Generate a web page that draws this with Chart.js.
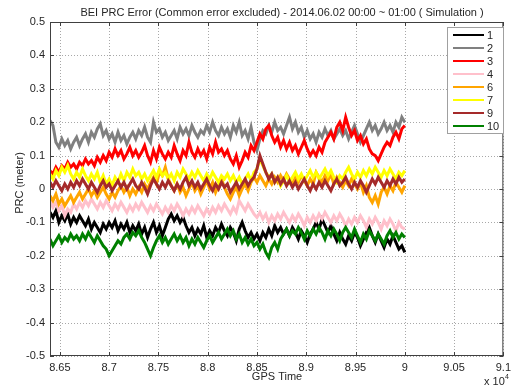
<!DOCTYPE html>
<html>
<head>
<meta charset="utf-8">
<script src="https://cdn.jsdelivr.net/npm/chart.js@4/dist/chart.umd.min.js"></script>
<style>
  html, body { margin: 0; padding: 0; background: #fff; }
  #wrap { width: 516px; height: 389px; }
</style>
</head>
<body>
<div id="wrap"><canvas id="prc" width="516" height="389"></canvas></div>
<script>
// sample grid: 30 s steps from 86400 to 90000
const tStart = 86400
const tStep = 30

const xTicks = [86500, 87000, 87500, 88000, 88500, 89000, 89500, 90000, 90500, 91000]
const yTicks = [-0.5, -0.4, -0.3, -0.2, -0.1, 0, 0.1, 0.2, 0.3, 0.4, 0.5]

const names = ['1', '2', '3', '4', '6', '7', '9', '10']
const colors = ['#000000', '#808080', '#ff0000', '#ffc0cb', '#ffa500', '#ffff00', '#a52a2a', '#008000']

const prn1 = [
  -0.07, -0.085, -0.065, -0.1, -0.08, -0.095, -0.075, -0.105, -0.085, -0.1,
  -0.08, -0.095, -0.11, -0.09, -0.12, -0.1, -0.115, -0.13, -0.105, -0.12,
  -0.1, -0.115, -0.095, -0.125, -0.105, -0.12, -0.1, -0.13, -0.11, -0.125,
  -0.105, -0.135, -0.115, -0.145, -0.12, -0.1, -0.13, -0.11, -0.14, -0.115,
  -0.09, -0.075, -0.095, -0.08, -0.1, -0.085, -0.11, -0.13, -0.115, -0.14,
  -0.12, -0.135, -0.11, -0.145, -0.125, -0.14, -0.115, -0.13, -0.105, -0.125,
  -0.14, -0.115, -0.13, -0.155, -0.12, -0.1, -0.125, -0.145, -0.13, -0.15,
  -0.135, -0.155, -0.13, -0.145, -0.12, -0.14, -0.11, -0.13, -0.115, -0.135,
  -0.12, -0.14, -0.115, -0.13, -0.15, -0.125, -0.14, -0.16, -0.135, -0.12,
  -0.1, -0.12, -0.09, -0.11, -0.13, -0.11, -0.135, -0.155, -0.13, -0.15,
  -0.165, -0.14, -0.155, -0.13, -0.145, -0.17, -0.15, -0.13, -0.115, -0.14,
  -0.16, -0.135, -0.155, -0.175, -0.15, -0.165, -0.14, -0.16, -0.18, -0.17, -0.19
]
const prn2 = [
  0.205, 0.19, 0.14, 0.125, 0.15, 0.13, 0.145, 0.12, 0.14, 0.155,
  0.13, 0.15, 0.165, 0.14, 0.17, 0.155, 0.18, 0.195, 0.16, 0.175,
  0.15, 0.165, 0.14, 0.17, 0.145, 0.16, 0.135, 0.155, 0.17, 0.15,
  0.175, 0.16, 0.185, 0.155, 0.14, 0.2, 0.17, 0.18, 0.155, 0.17,
  0.145, 0.16, 0.175, 0.15, 0.185, 0.165, 0.18, 0.16, 0.19, 0.17,
  0.155, 0.175, 0.165, 0.19, 0.17, 0.2, 0.175, 0.16, 0.185, 0.165,
  0.18, 0.155, 0.19, 0.17, 0.2, 0.16, 0.175, 0.15, 0.185, 0.14,
  0.115, 0.15, 0.175, 0.165, 0.19, 0.17, 0.2, 0.175, 0.185, 0.165,
  0.19, 0.215, 0.18, 0.2, 0.17, 0.185, 0.155, 0.175, 0.15, 0.165,
  0.14, 0.17, 0.155, 0.18, 0.16, 0.175, 0.15, 0.165, 0.18, 0.16,
  0.175, 0.15, 0.17, 0.19, 0.165, 0.14, 0.16, 0.18, 0.2, 0.175,
  0.19, 0.165, 0.18, 0.2, 0.175, 0.19, 0.17, 0.2, 0.185, 0.215, 0.2
]
const prn3 = [
  0.055, 0.045, 0.065, 0.05, 0.07, 0.06, 0.08, 0.065, 0.075, 0.06,
  0.08, 0.07, 0.09, 0.075, 0.085, 0.07, 0.095, 0.08, 0.1, 0.085,
  0.11, 0.095, 0.12, 0.1, 0.115, 0.09, 0.105, 0.125, 0.1, 0.115,
  0.095, 0.11, 0.13, 0.1, 0.08, 0.115, 0.09, 0.125, 0.105, 0.09,
  0.11, 0.095, 0.13, 0.105, 0.085, 0.115, 0.1, 0.14, 0.11, 0.095,
  0.12, 0.1, 0.115, 0.09, 0.125, 0.105, 0.14, 0.11, 0.12, 0.1,
  0.115, 0.09, 0.075, 0.1, 0.065, 0.085, 0.11, 0.095, 0.13, 0.115,
  0.14, 0.165, 0.15, 0.18, 0.19, 0.16, 0.14, 0.155, 0.125, 0.145,
  0.12, 0.14, 0.115, 0.13, 0.105, 0.125, 0.145, 0.12, 0.1, 0.115,
  0.1, 0.125, 0.11, 0.14, 0.155, 0.17, 0.15, 0.185, 0.2, 0.175,
  0.215, 0.185, 0.16, 0.175, 0.145, 0.16, 0.135, 0.15, 0.12, 0.105,
  0.1, 0.085, 0.105, 0.125, 0.14, 0.13, 0.155, 0.17, 0.15, 0.18, 0.19
]
const prn4 = [
  -0.035, -0.055, -0.04, -0.065, -0.05, -0.08, -0.06, -0.07, -0.045, -0.06,
  -0.04, -0.055, -0.035, -0.05, -0.03, -0.045, -0.06, -0.04, -0.055, -0.035,
  -0.05, -0.065, -0.045, -0.06, -0.04, -0.055, -0.07, -0.05, -0.065, -0.045,
  -0.06, -0.04, -0.055, -0.07, -0.05, -0.065, -0.045, -0.06, -0.075, -0.055,
  -0.07, -0.05, -0.065, -0.045, -0.06, -0.08, -0.06, -0.075, -0.055, -0.07,
  -0.05, -0.065, -0.08, -0.06, -0.075, -0.055, -0.07, -0.05, -0.065, -0.045,
  -0.06, -0.075, -0.055, -0.07, -0.035, -0.05, -0.065, -0.045, -0.06, -0.075,
  -0.085, -0.07, -0.09, -0.075, -0.1, -0.08, -0.095, -0.075, -0.09, -0.07,
  -0.085, -0.1, -0.08, -0.095, -0.075, -0.09, -0.11, -0.085, -0.1, -0.08,
  -0.095, -0.075, -0.09, -0.07, -0.085, -0.1, -0.08, -0.095, -0.075, -0.09,
  -0.11, -0.09, -0.105, -0.085, -0.1, -0.08, -0.095, -0.115, -0.09, -0.105,
  -0.085, -0.1, -0.12, -0.095, -0.11, -0.09, -0.105, -0.125, -0.1, -0.115, -0.12
]
const prn6 = [
  -0.02, -0.035, -0.015, -0.045, -0.03, -0.05, -0.035, -0.02, -0.04, -0.025,
  -0.01, -0.03, -0.015, 0.0, -0.02, -0.005, -0.025, -0.01, 0.005, -0.015,
  -0.03, -0.01, -0.025, -0.005, 0.01, -0.01, 0.005, -0.02, 0.0, -0.015,
  0.005, -0.01, 0.015, 0.0, 0.02, 0.035, 0.015, 0.05, 0.04, 0.065,
  0.03, 0.01, -0.005, 0.015, -0.01, 0.005, -0.02, 0.0, 0.02, -0.005,
  0.01, -0.015, 0.005, 0.025, 0.0, 0.02, -0.01, 0.01, 0.03, 0.005,
  -0.015, -0.03, -0.01, 0.005, -0.02, 0.0, 0.015, -0.005, 0.02, 0.035,
  0.02, 0.04, 0.025, 0.01, 0.03, 0.015, 0.035, 0.02, 0.04, 0.025,
  0.045, 0.03, 0.015, 0.035, 0.02, 0.04, 0.025, 0.01, 0.03, 0.015,
  0.05, 0.035, 0.02, 0.04, 0.025, 0.045, 0.015, 0.035, 0.02, 0.005,
  0.025, 0.01, 0.03, 0.015, 0.0, 0.02, -0.01, 0.01, -0.025, -0.04,
  -0.02, -0.045, -0.01, 0.005, -0.015, 0.01, -0.005, 0.02, 0.005, -0.01, 0.01
]
const prn7 = [
  0.045, 0.03, 0.055, 0.04, 0.065, 0.05, 0.07, 0.045, 0.03, 0.05,
  0.035, 0.06, 0.04, 0.025, 0.045, 0.03, 0.05, 0.02, 0.04, 0.015,
  0.03, 0.01, 0.035, 0.02, 0.045, 0.025, 0.05, 0.035, 0.06, 0.04,
  0.05, 0.03, 0.045, 0.025, 0.04, 0.055, 0.035, 0.06, 0.04, 0.05,
  0.03, 0.045, 0.025, 0.05, 0.035, 0.06, 0.045, 0.03, 0.05, 0.035,
  0.055, 0.04, 0.025, 0.045, 0.03, 0.05, 0.035, 0.02, 0.04, 0.03,
  0.045, 0.025, 0.04, 0.02, 0.035, 0.015, 0.03, 0.045, 0.025, 0.05,
  0.06, 0.09, 0.07, 0.05, 0.035, 0.045, 0.02, 0.035, 0.01, 0.025,
  0.04, 0.02, 0.035, 0.05, 0.03, 0.045, 0.025, 0.04, 0.055, 0.035,
  0.05, 0.03, 0.045, 0.06, 0.04, 0.055, 0.035, 0.02, 0.04, 0.03,
  0.05, 0.065, 0.045, 0.03, 0.05, 0.035, 0.055, 0.04, 0.06, 0.045,
  0.065, 0.05, 0.035, 0.055, 0.04, 0.06, 0.045, 0.03, 0.05, 0.04, 0.055
]
const prn9 = [
  0.02, 0.005, 0.025, 0.01, -0.005, 0.015, 0.0, 0.02, 0.005, 0.025,
  0.01, 0.03, 0.015, 0.0, 0.02, 0.005, -0.01, 0.01, 0.025, 0.005,
  0.015, -0.005, 0.01, 0.025, 0.005, 0.02, 0.0, 0.015, 0.03, 0.01,
  0.0, 0.02, 0.005, -0.015, 0.01, 0.03, 0.015, 0.0, 0.02, 0.005,
  0.025, 0.01, -0.005, 0.015, 0.0, 0.02, 0.035, 0.01, 0.025, 0.005,
  0.02, 0.0, 0.015, 0.03, 0.01, -0.005, 0.015, 0.0, 0.02, 0.005,
  0.015, -0.01, 0.005, 0.02, 0.0, 0.015, 0.03, 0.01, 0.025, 0.035,
  0.06, 0.1, 0.075, 0.05, 0.03, 0.045, 0.02, 0.035, 0.015, 0.03,
  0.01, 0.025, 0.005, 0.02, 0.0, 0.015, 0.03, 0.01, -0.005, 0.015,
  0.0, 0.02, 0.005, 0.025, 0.01, -0.005, 0.015, 0.03, 0.01, 0.02,
  0.035, 0.015, 0.0, 0.02, 0.005, 0.025, 0.01, -0.01, 0.01, 0.03,
  0.015, 0.035, 0.02, 0.005, 0.025, 0.01, 0.03, 0.015, 0.035, 0.02, 0.03
]
const prn10 = [
  -0.15, -0.17, -0.155, -0.14, -0.16, -0.145, -0.155, -0.135, -0.15, -0.14,
  -0.155, -0.135, -0.15, -0.13, -0.145, -0.16, -0.14, -0.155, -0.17, -0.18,
  -0.2, -0.185, -0.17, -0.155, -0.165, -0.145, -0.135, -0.15, -0.13, -0.14,
  -0.125, -0.145, -0.16, -0.18, -0.2, -0.175, -0.155, -0.14, -0.16, -0.145,
  -0.165, -0.15, -0.135, -0.155, -0.14, -0.16, -0.145, -0.17, -0.15, -0.165,
  -0.145, -0.16, -0.175, -0.155, -0.14, -0.16, -0.145, -0.13, -0.15, -0.135,
  -0.12, -0.14, -0.125, -0.15, -0.135, -0.16, -0.145, -0.165, -0.15, -0.17,
  -0.16, -0.18, -0.165, -0.19, -0.205, -0.175, -0.16, -0.18, -0.15, -0.135,
  -0.12, -0.14, -0.125, -0.135, -0.115, -0.13, -0.15, -0.125, -0.14, -0.12,
  -0.135, -0.115, -0.13, -0.15, -0.125, -0.14, -0.12, -0.135, -0.155, -0.13,
  -0.115, -0.13, -0.145, -0.12, -0.14, -0.16, -0.135, -0.15, -0.125, -0.14,
  -0.155, -0.135, -0.15, -0.165, -0.14, -0.125, -0.145, -0.13, -0.15, -0.135, -0.145
]

const series = [prn1, prn2, prn3, prn4, prn6, prn7, prn9, prn10]

const FONT = '"Liberation Sans", Arial, sans-serif'
const INK = '#262626'

// dotted grid under the lines
const dottedGrid = {
    id: 'dottedGrid',
    beforeDatasetsDraw(chart) {
        const ctx = chart.ctx
        const a = chart.chartArea
        const xs = chart.scales.x
        const ys = chart.scales.y
        ctx.save()
        ctx.strokeStyle = '#a8a8a8'
        ctx.lineWidth = 1
        ctx.setLineDash([1, 2])
        ctx.beginPath()
        xTicks.forEach(v => {
            const px = Math.round(xs.getPixelForValue(v)) + 0.5
            ctx.moveTo(px, a.top); ctx.lineTo(px, a.bottom)
        })
        yTicks.forEach(v => {
            const py = Math.round(ys.getPixelForValue(v)) + 0.5
            ctx.moveTo(a.left, py); ctx.lineTo(a.right, py)
        })
        ctx.stroke()
        ctx.restore()
    }
}

// box, inward ticks, labels and legend, drawn like a matlab axes
const matlabFrame = {
    id: 'matlabFrame',
    afterDraw(chart) {
        const ctx = chart.ctx
        const a = chart.chartArea
        const xs = chart.scales.x
        const ys = chart.scales.y

        ctx.save()
        ctx.strokeStyle = '#404040'
        ctx.lineWidth = 1
        ctx.strokeRect(a.left + 0.5, a.top + 0.5, a.right - a.left - 1, a.bottom - a.top - 1)

        ctx.beginPath()
        xTicks.forEach(v => {
            const px = Math.round(xs.getPixelForValue(v)) + 0.5
            ctx.moveTo(px, a.bottom); ctx.lineTo(px, a.bottom - 4)
            ctx.moveTo(px, a.top); ctx.lineTo(px, a.top + 4)
        })
        yTicks.forEach(v => {
            const py = Math.round(ys.getPixelForValue(v)) + 0.5
            ctx.moveTo(a.left, py); ctx.lineTo(a.left + 4, py)
            ctx.moveTo(a.right, py); ctx.lineTo(a.right - 4, py)
        })
        ctx.stroke()

        // title and axis labels
        ctx.fillStyle = INK
        ctx.font = '11px ' + FONT
        ctx.textAlign = 'center'
        ctx.textBaseline = 'middle'
        ctx.fillText('BEI PRC Error (Common error excluded) - 2014.06.02 00:00 ~ 01:00 ( Simulation )', 282, 13)
        ctx.fillText('GPS Time', 277, 377)

        ctx.save()
        ctx.translate(20, 183)
        ctx.rotate(-Math.PI / 2)
        ctx.fillText('PRC (meter)', 0, 0)
        ctx.restore()

        ctx.textAlign = 'left'
        ctx.fillText('x 10', 484, 382)
        ctx.font = '7px ' + FONT
        ctx.fillText('4', 505, 377)

        // legend
        const lx = 447, ly = 27, lw = 56, lh = 106
        ctx.fillStyle = '#ffffff'
        ctx.fillRect(lx, ly, lw, lh)
        ctx.strokeStyle = '#a0a0a0'
        ctx.strokeRect(lx + 0.5, ly + 0.5, lw, lh)
        ctx.font = '11px ' + FONT
        chart.data.datasets.forEach((ds, i) => {
            const y = 35 + i * 13
            ctx.strokeStyle = ds.borderColor
            ctx.lineWidth = 2
            ctx.beginPath()
            ctx.moveTo(453, y)
            ctx.lineTo(484, y)
            ctx.stroke()
            ctx.fillStyle = INK
            ctx.fillText(ds.label, 487, y + 1)
        })
        ctx.restore()
    }
}

const datasets = names.map((name, i) => ({
    label: name,
    data: series[i].map((v, k) => ({ x: tStart + k * tStep, y: v })),
    borderColor: colors[i],
    borderWidth: 3,
    borderJoinStyle: 'miter',
    pointRadius: 0,
    tension: 0,
    // later series paint on top, as in the source plot
    order: names.length - i
}))

new Chart(document.getElementById('prc'), {
    type: 'line',
    data: { datasets },
    options: {
        responsive: false,
        animation: false,
        layout: { padding: { top: 22, right: 9, left: 0, bottom: 0 } },
        plugins: { legend: { display: false }, title: { display: false }, tooltip: { enabled: false } },
        scales: {
            x: {
                type: 'linear',
                min: 86400,
                max: 91000,
                afterBuildTicks: s => { s.ticks = xTicks.map(v => ({ value: v })) },
                afterFit: s => { s.height = 33 },
                grid: { display: false, drawTicks: false, tickLength: 0 },
                border: { display: false },
                ticks: {
                    padding: 5,
                    color: INK,
                    font: { family: FONT, size: 11 },
                    maxRotation: 0,
                    callback: v => String(+(v / 10000).toFixed(2))
                }
            },
            y: {
                min: -0.5,
                max: 0.5,
                afterBuildTicks: s => { s.ticks = yTicks.map(v => ({ value: v })) },
                afterFit: s => { s.width = 50 },
                grid: { display: false, drawTicks: false, tickLength: 0 },
                border: { display: false },
                ticks: {
                    padding: 5,
                    color: INK,
                    font: { family: FONT, size: 11 },
                    callback: v => String(+v.toFixed(1))
                }
            }
        }
    },
    plugins: [dottedGrid, matlabFrame]
})
</script>
</body>
</html>
